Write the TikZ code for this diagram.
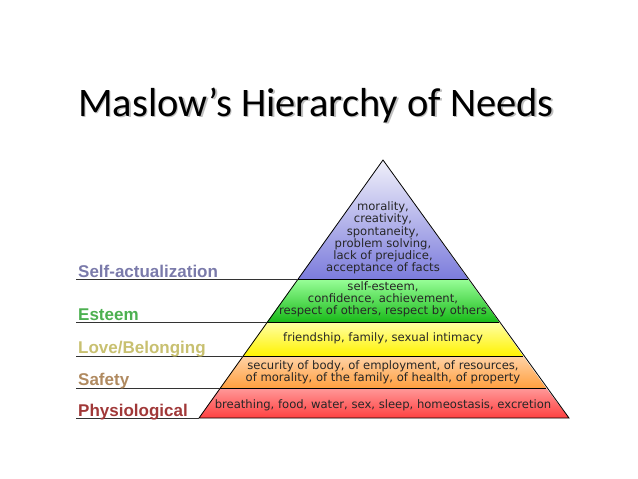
\documentclass[tikz,border=0pt]{standalone}
\usepackage{fontspec}
\setmainfont{DejaVu Sans}
\newfontfamily\titlefont{Carlito}
\newfontfamily\labfont{Liberation Sans}
\begin{document}
\begin{tikzpicture}[x=1pt,y=-1pt,
  layer/.style={draw=black,line width=0.8pt},
  inner/.style={font=\fontsize{11.6}{12.2}\selectfont,align=center,text=black!85},
  lab/.style={font=\labfont\bfseries\fontsize{17}{19}\selectfont,anchor=base west,inner sep=0pt},
  rule/.style={line width=0.8pt,black!80}]
\useasboundingbox (0,0) rectangle (638,479);
\definecolor{ptop}{HTML}{F0F0FA}
\definecolor{pbot}{HTML}{7C7CDC}
\node[font=\titlefont\fontsize{40.5}{44}\selectfont,text=black!25,anchor=base west,inner sep=0] at (79.5,117.5) {Maslow’s Hierarchy of Needs};
\node[font=\titlefont\fontsize{40.5}{44}\selectfont,anchor=base west,inner sep=0] (title) at (78,116) {Maslow’s Hierarchy of Needs};
\coordinate (A) at (383,160);
\shade[top color=ptop,bottom color=pbot] (A) -- (468,279) -- (298,279) -- cycle;
\shade[top color=green!40,bottom color=green!70!black!90] (298,279) -- (468,279) -- (499,322) -- (267,322) -- cycle;
\shade[top color=yellow!35,bottom color=yellow!90!orange] (267,322) -- (499,322) -- (523,356) -- (243,356) -- cycle;
\shade[top color=orange!35,bottom color=orange!75] (243,356) -- (523,356) -- (546,388) -- (220,388) -- cycle;
\shade[top color=red!40,bottom color=red!75] (220,388) -- (546,388) -- (569,418) -- (199,418) -- cycle;
\draw[layer] (A) -- (569,418) -- (199,418) -- cycle;
\foreach \y/\l/\r in {279/298/468,322/267/499,356/243/523,388/220/546} \draw[layer] (\l,\y) -- (\r,\y);
\node[inner] (t1) at (383,238) {morality,\\creativity,\\spontaneity,\\problem solving,\\lack of prejudice,\\acceptance of facts};
\node[inner] (t2) at (383,299) {self-esteem,\\confidence, achievement,\\respect of others, respect by others};
\node[inner] (t3) at (383,338) {friendship, family, sexual intimacy};
\node[inner] (t4) at (383,372) {security of body, of employment, of resources,\\of morality, of the family, of health, of property};
\node[inner] (t5) at (383,405) {breathing, food, water, sex, sleep, homeostasis, excretion};
\coordinate (r1) at (298,279); \coordinate (r2) at (267,322); \coordinate (r3) at (243,356);
\coordinate (r4) at (220,388); \coordinate (r5) at (199,418);
\draw[rule] (76,279) coordinate (l1) -- (r1);
\draw[rule] (76,322) coordinate (l2) -- (r2);
\draw[rule] (76,356) coordinate (l3) -- (r3);
\draw[rule] (76,388) coordinate (l4) -- (r4);
\draw[rule] (76,418) coordinate (l5) -- (r5);
\definecolor{cself}{HTML}{7A7AAA}
\definecolor{cest}{HTML}{4CB050}
\definecolor{clove}{HTML}{C8C070}
\definecolor{csafe}{HTML}{B08A60}
\definecolor{cphys}{HTML}{A03838}
\node[lab,text=cself] (s1) at (78,277) {Self-actualization};
\node[lab,text=cest] (s2) at (78,320) {Esteem};
\node[lab,text=clove] (s3) at (78,353) {Love/Belonging};
\node[lab,text=csafe] (s4) at (78,385) {Safety};
\node[lab,text=cphys] (s5) at (78,416) {Physiological};
\end{tikzpicture}
\end{document}
